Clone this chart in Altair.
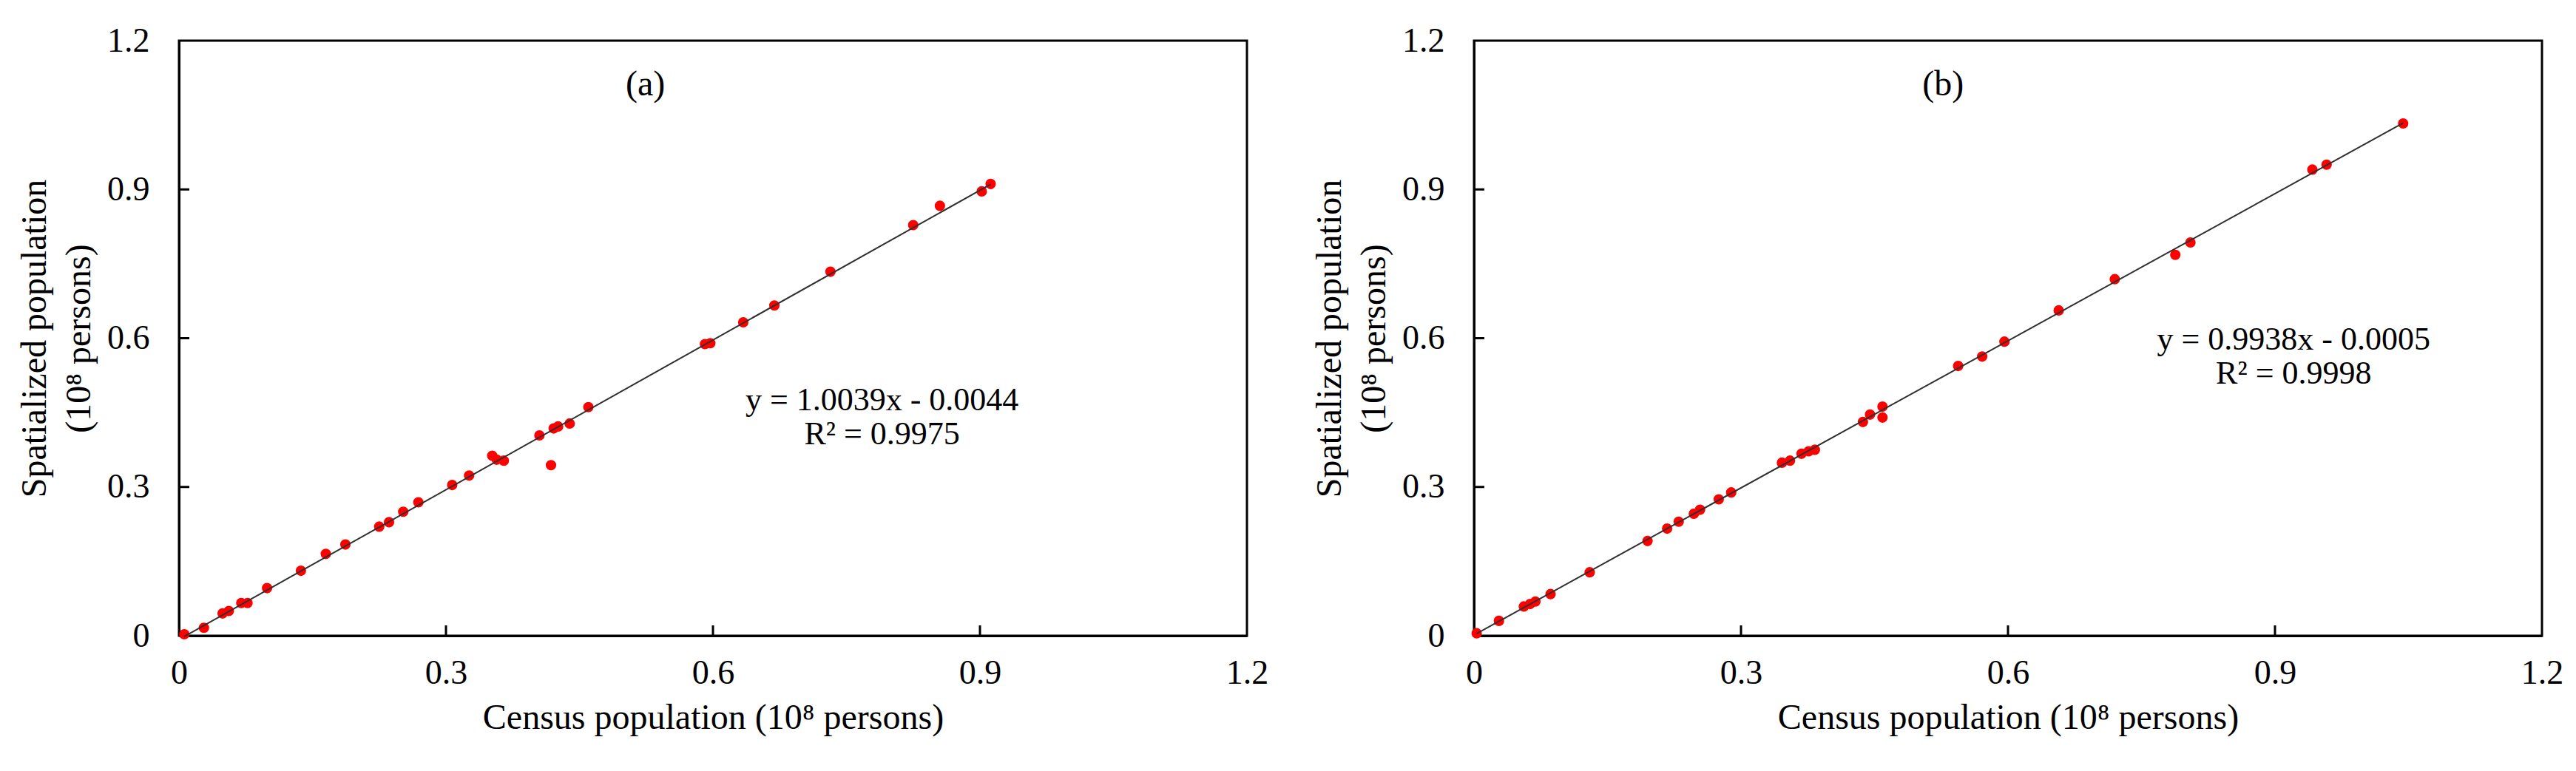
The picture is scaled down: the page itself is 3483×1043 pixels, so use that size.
import altair as alt
import pandas as pd

# ---- tick labels ----
TICK_VALUES = [0, 0.3, 0.6, 0.9, 1.2]
INNER_TICKS = [0.3, 0.6, 0.9]

# ---- panel (a) data (10^8 persons) ----
a_census = [0.006, 0.028, 0.049, 0.056, 0.070, 0.077, 0.099, 0.137, 0.165, 0.187,
            0.225, 0.236, 0.252, 0.269, 0.307, 0.326, 0.352, 0.357, 0.365, 0.405,
            0.418, 0.421, 0.426, 0.439, 0.460, 0.591, 0.597, 0.634, 0.669, 0.732,
            0.825, 0.855, 0.902, 0.912]
a_spatial = [0.003, 0.016, 0.045, 0.050, 0.066, 0.066, 0.096, 0.131, 0.165, 0.184,
             0.220, 0.229, 0.250, 0.269, 0.304, 0.323, 0.363, 0.355, 0.353, 0.404,
             0.344, 0.418, 0.422, 0.428, 0.461, 0.588, 0.590, 0.632, 0.666, 0.734,
             0.828, 0.867, 0.896, 0.911]

# ---- panel (b) data (10^8 persons) ----
b_census = [0.003, 0.028, 0.056, 0.063, 0.069, 0.086, 0.130, 0.195, 0.217, 0.230,
            0.247, 0.254, 0.275, 0.289, 0.346, 0.355, 0.368, 0.376, 0.383, 0.437,
            0.445, 0.459, 0.459, 0.544, 0.571, 0.596, 0.657, 0.720, 0.788, 0.805,
            0.942, 0.958, 1.044]
b_spatial = [0.005, 0.030, 0.059, 0.064, 0.069, 0.084, 0.128, 0.191, 0.216, 0.230,
             0.246, 0.254, 0.275, 0.289, 0.349, 0.353, 0.367, 0.372, 0.375, 0.431,
             0.446, 0.462, 0.440, 0.544, 0.563, 0.593, 0.656, 0.719, 0.768, 0.793,
             0.940, 0.950, 1.033]

a_text = {"tag": "(a)", "eq": "y = 1.0039x - 0.0044", "r2": "R² = 0.9975"}
b_text = {"tag": "(b)", "eq": "y = 0.9938x - 0.0005", "r2": "R² = 0.9998"}

FONT = "Liberation Serif"
W, H = 1444, 805
TICK_LEN = 14


def panel(xs, ys, txt, tag_pos, eq_pos, r2_pos):
    df = pd.DataFrame({"x": xs, "y": ys})
    xsc = alt.Scale(domain=[0, 1.2], nice=False, zero=False)
    ysc = alt.Scale(domain=[0, 1.2], nice=False, zero=False)
    xax = alt.Axis(values=TICK_VALUES, format=".1~f", tickSize=0, grid=False,
                   labelFlush=False, labelOverlap=False, labelPadding=28,
                   titlePadding=14, title="Census population (10⁸ persons)")
    yax = alt.Axis(values=TICK_VALUES, format=".1~f", tickSize=0, grid=False,
                   labelFlush=False, labelOverlap=False, labelPadding=40,
                   titlePadding=13, titleLineHeight=60,
                   title=["Spatialized population", "(10⁸ persons)"])
    base = alt.Chart(df)
    pts = base.mark_circle(color="#ff0000", opacity=1, size=200).encode(
        x=alt.X("x:Q", scale=xsc, axis=xax),
        y=alt.Y("y:Q", scale=ysc, axis=yax),
    )
    line = base.transform_regression("x", "y").mark_line(
        color="#303030", strokeWidth=2).encode(x="x:Q", y="y:Q")

    xt = alt.Chart(pd.DataFrame({"x": INNER_TICKS})).mark_rule(
        color="black", strokeWidth=3).encode(
        x="x:Q", y=alt.value(H), y2=alt.value(H - TICK_LEN))
    yt = alt.Chart(pd.DataFrame({"y": INNER_TICKS})).mark_rule(
        color="black", strokeWidth=3).encode(
        y="y:Q", x=alt.value(0), x2=alt.value(TICK_LEN))

    def label(text, pos, size):
        return alt.Chart(pd.DataFrame({"t": [text]})).mark_text(
            font=FONT, fontSize=size, color="black", align="center",
            baseline="middle").encode(
            x=alt.datum(pos[0]), y=alt.datum(pos[1]), text="t:N")

    return alt.layer(
        pts, line, xt, yt,
        label(txt["tag"], tag_pos, 48),
        label(txt["eq"], eq_pos, 44),
        label(txt["r2"], r2_pos, 44),
    ).properties(width=W, height=H)


pa = panel(a_census, a_spatial, a_text, (0.524, 1.11), (0.79, 0.474), (0.79, 0.405))
pb = panel(b_census, b_spatial, b_text, (0.527, 1.11), (0.921, 0.596), (0.921, 0.528))

chart = alt.hconcat(pa, pb, spacing=56).properties(
    padding={"left": 14, "top": 22, "right": 5, "bottom": 5}
).configure_view(
    stroke="black", strokeWidth=3
).configure_axis(
    domainColor="black", domainWidth=3,
    labelFont=FONT, labelFontSize=46, labelColor="black",
    titleFont=FONT, titleFontSize=48, titleFontWeight="normal", titleColor="black",
)

chart.save("out.html", embed_options={"renderer": "svg", "actions": False})
